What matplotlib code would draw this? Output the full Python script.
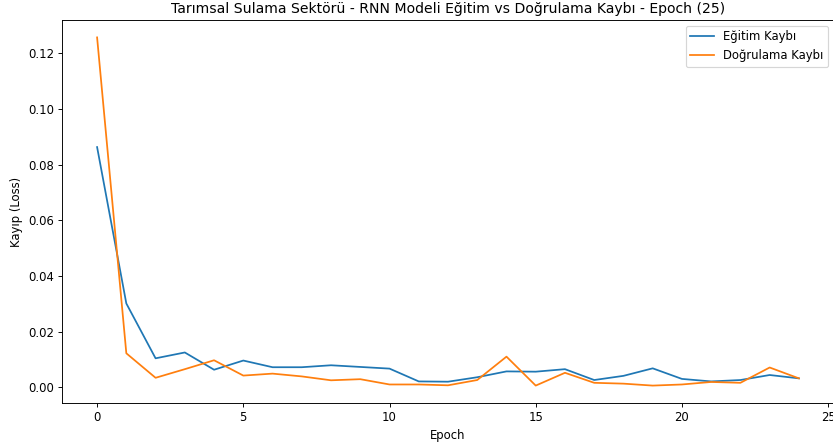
import matplotlib
matplotlib.use("Agg")
from matplotlib import pyplot as plt

epochs = list(range(25))
train_loss = [0.0863, 0.0301, 0.0104, 0.0125, 0.0063, 0.0096, 0.0072, 0.0072, 0.0079, 0.0073,
              0.0067, 0.0021, 0.0020, 0.0036, 0.0057, 0.0056, 0.0065, 0.0026, 0.0041, 0.0068,
              0.0030, 0.0021, 0.0026, 0.0044, 0.0032]
val_loss = [0.1257, 0.0122, 0.0034, 0.0065, 0.0097, 0.0042, 0.0049, 0.0039, 0.0025, 0.0029,
            0.0010, 0.0010, 0.0007, 0.0026, 0.0110, 0.0006, 0.0052, 0.0016, 0.0013, 0.0006,
            0.0010, 0.0019, 0.0016, 0.0071, 0.0032]

# rendered a bit smaller than default (original looks downscaled)
DPI = 84
fig = plt.figure(figsize=(833/DPI, 446/DPI), dpi=DPI)
ax = fig.add_axes([62/833, 43/446, 772/833, 383/446])

ax.plot(epochs, train_loss, label='Eğitim Kaybı')
ax.plot(epochs, val_loss, label='Doğrulama Kaybı')

ax.set_title('Tarımsal Sulama Sektörü - RNN Modeli Eğitim vs Doğrulama Kaybı - Epoch (25)')
ax.set_xlabel('Epoch')
ax.set_ylabel('Kayıp (Loss)')
ax.legend(loc='upper right')

fig.savefig('out.png', dpi=DPI)
